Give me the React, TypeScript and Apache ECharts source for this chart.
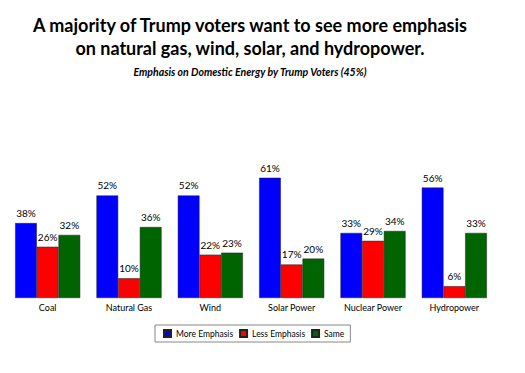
import React, { useEffect, useRef } from "react";
import * as echarts from "echarts";

const categories = ["Coal", "Natural Gas", "Wind", "Solar Power", "Nuclear Power", "Hydropower"];
const moreEmphasis = [38, 52, 52, 61, 33, 56];
const lessEmphasis = [26, 10, 22, 17, 29, 6];
const same = [32, 36, 23, 20, 34, 33];
const seriesNames = ["More Emphasis", "Less Emphasis", "Same"];
const colors = ["#0000FF", "#FF0000", "#006400"];
const titleLines = [
  "A majority of Trump voters want to see more emphasis",
  "on natural gas, wind, solar, and hydropower.",
];
const subtitle = "Emphasis on Domestic Energy by Trump Voters (45%)";

export default function App() {
  const ref = useRef<HTMLDivElement>(null);
  useEffect(() => {
    const chart = echarts.init(ref.current!, null, { renderer: "svg" });
    const font = "Lato, 'Open Sans', sans-serif";
    const mk = (name: string, data: number[], color: string) => ({
      name,
      type: "bar",
      data,
      barGap: "0%",
      barCategoryGap: "20%",
      itemStyle: { color, borderColor: "#222", borderWidth: 0.5 },
      label: {
        show: true,
        position: "top",
        distance: 5,
        formatter: "{c}%",
        color: "#000",
        fontSize: 10,
        fontFamily: font,
      },
    });
    chart.setOption({
      animation: false,
      backgroundColor: "#fff",
      graphic: [
        {
          type: "text",
          x: 250,
          y: 25,
          style: {
            text: titleLines[0],
            align: "center",
            verticalAlign: "middle",
            font: `bold 18px ${font}`,
            fill: "#000",
          },
        },
        {
          type: "text",
          x: 250,
          y: 48,
          style: {
            text: titleLines[1],
            align: "center",
            verticalAlign: "middle",
            font: `bold 18px ${font}`,
            fill: "#000",
          },
        },
        {
          type: "text",
          x: 250,
          y: 72,
          style: {
            text: subtitle,
            align: "center",
            verticalAlign: "middle",
            font: `italic bold 10.5px ${font}`,
            fill: "#000",
          },
        },
      ],
      legend: {
        bottom: 31,
        left: 155,
        itemWidth: 7,
        itemHeight: 7,
        itemGap: 6,
        padding: [4, 6, 4, 8],
        borderColor: "#888",
        borderWidth: 1,
        icon: "rect",
        textStyle: { fontSize: 8.5, fontFamily: font, color: "#000" },
        data: seriesNames,
      },
      grid: { left: 7, right: 30, top: 160, bottom: 75, containLabel: false },
      xAxis: {
        type: "category",
        data: categories,
        axisLine: { show: false },
        axisTick: { show: false },
        axisLabel: { color: "#000", fontSize: 9, fontFamily: font, margin: 5 },
      },
      yAxis: {
        type: "value",
        min: 0,
        max: 70,
        show: false,
      },
      series: [
        mk(seriesNames[0], moreEmphasis, colors[0]),
        mk(seriesNames[1], lessEmphasis, colors[1]),
        mk(seriesNames[2], same, colors[2]),
      ],
    });
    return () => chart.dispose();
  }, []);
  return <div ref={ref} style={{ width: 525, height: 373, margin: -8 }} />;
}
